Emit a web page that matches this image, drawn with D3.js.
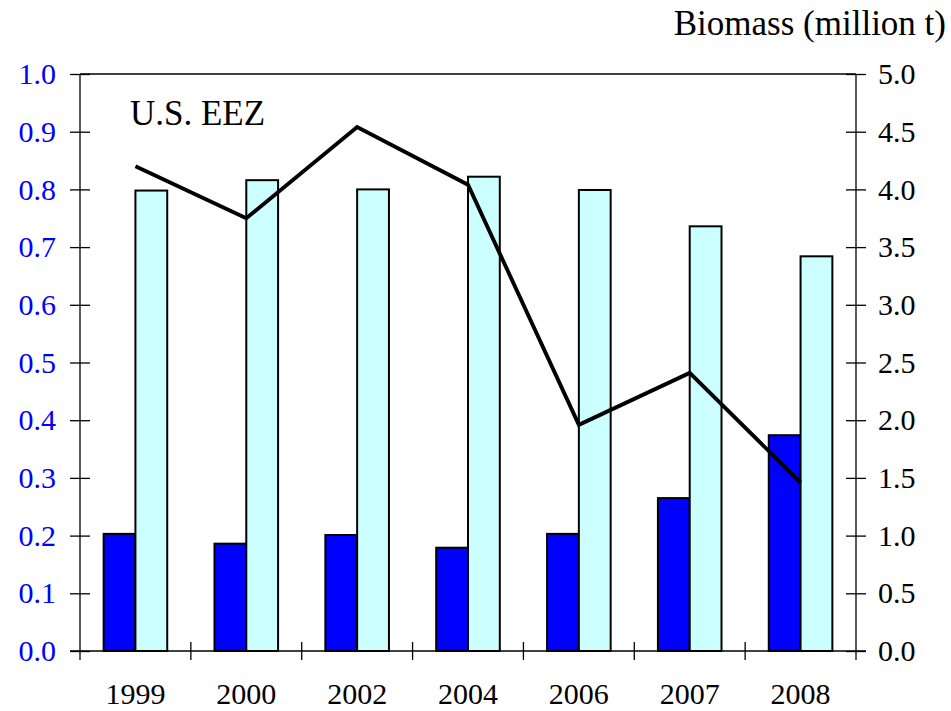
<!DOCTYPE html>
<html>
<head>
<meta charset="utf-8">
<script src="https://cdn.jsdelivr.net/npm/d3@7"></script>
<style>
  body { margin: 0; background: #fff; }
  svg { display: block; }
  svg text { font-family: "Liberation Serif", "Times New Roman", serif !important; }
</style>
</head>
<body>
<svg id="chart" width="951" height="711"></svg>
<script>
const years = ["1999", "2000", "2002", "2004", "2006", "2007", "2008"];
const darkValues = [0.203, 0.186, 0.201, 0.179, 0.203, 0.265, 0.374];   // left axis
const lightValues = [3.99, 4.08, 4.00, 4.11, 3.995, 3.68, 3.42];       // right axis
const lineValues = [4.20, 3.75, 4.54, 4.04, 1.96, 2.41, 1.46];         // right axis
const leftTicks = [0, 0.1, 0.2, 0.3, 0.4, 0.5, 0.6, 0.7, 0.8, 0.9, 1.0];
const rightTicks = [0, 0.5, 1, 1.5, 2, 2.5, 3, 3.5, 4, 4.5, 5];
const rightTitle = "Biomass (million t)";
const panelLabel = "U.S. EEZ";

const L = 80, R = 856, T = 74, B = 651;
const svg = d3.select("#chart");

const x = d3.scaleBand().domain(years).range([L, R]).paddingInner(0).paddingOuter(0);
const yL = d3.scaleLinear().domain([0, 1]).range([B, T]);
const yR = d3.scaleLinear().domain([0, 5]).range([B, T]);
const barW = 31.8;

// top border
svg.append("line").attr("x1", L).attr("x2", R).attr("y1", T).attr("y2", T)
  .attr("stroke", "#000").attr("stroke-width", 1.3);

// bars
const g = svg.append("g");
g.selectAll("rect.dark").data(years).join("rect")
  .attr("class", "dark")
  .attr("x", d => x(d) + x.bandwidth() / 2 - barW)
  .attr("width", barW)
  .attr("y", (d, i) => yL(darkValues[i]))
  .attr("height", (d, i) => B - yL(darkValues[i]))
  .attr("fill", "#0000ff").attr("stroke", "#000").attr("stroke-width", 2);
g.selectAll("rect.light").data(years).join("rect")
  .attr("class", "light")
  .attr("x", d => x(d) + x.bandwidth() / 2)
  .attr("width", barW)
  .attr("y", (d, i) => yR(lightValues[i]))
  .attr("height", (d, i) => B - yR(lightValues[i]))
  .attr("fill", "#ccffff").attr("stroke", "#000").attr("stroke-width", 2);

// line
const line = d3.line()
  .x((d, i) => x(years[i]) + x.bandwidth() / 2)
  .y(d => yR(d));
svg.append("path").datum(lineValues).attr("d", line)
  .attr("fill", "none").attr("stroke", "#000").attr("stroke-width", 3.9)
  .attr("stroke-linejoin", "miter");

// left axis
const axL = d3.axisLeft(yL).tickValues(leftTicks).tickFormat(d3.format(".1f"))
  .tickSizeInner(10).tickSizeOuter(0).tickPadding(14);
const gL = svg.append("g").attr("transform", `translate(${L},0)`).call(axL)
  .attr("font-family", "Liberation Serif");
gL.select(".domain").remove();
gL.selectAll(".tick line").attr("x2", -10).attr("x1", 10).attr("stroke", "#000").attr("stroke-width", 1.3);
gL.selectAll(".tick text").attr("fill", "#0000ff").attr("font-size", 30).attr("x", -24);
svg.append("line").attr("x1", L).attr("x2", L).attr("y1", T).attr("y2", B + 9)
  .attr("stroke", "#000").attr("stroke-width", 1.3);

// right axis
const axR = d3.axisRight(yR).tickValues(rightTicks).tickFormat(d3.format(".1f"))
  .tickSizeInner(10).tickSizeOuter(0).tickPadding(14);
const gR = svg.append("g").attr("transform", `translate(${R},0)`).call(axR)
  .attr("font-family", "Liberation Serif");
gR.select(".domain").remove();
gR.selectAll(".tick line").attr("x1", -10).attr("x2", 10).attr("stroke", "#000").attr("stroke-width", 1.3);
gR.selectAll(".tick text").attr("fill", "#000").attr("font-size", 30).attr("x", 22);
svg.append("line").attr("x1", R).attr("x2", R).attr("y1", T).attr("y2", B + 9)
  .attr("stroke", "#000").attr("stroke-width", 1.3);

// bottom axis
const axB = d3.axisBottom(x).tickSize(0).tickPadding(32);
const gB = svg.append("g").attr("transform", `translate(0,${B})`).call(axB)
  .attr("font-family", "Liberation Serif");
gB.select(".domain").remove();
gB.selectAll(".tick text").attr("font-size", 30).attr("fill", "#000");
svg.append("line").attr("x1", L - 10).attr("x2", R + 10).attr("y1", B).attr("y2", B)
  .attr("stroke", "#000").attr("stroke-width", 1.3);
// category separators
svg.append("g").selectAll("line").data(years.slice(1)).join("line")
  .attr("x1", d => x(d)).attr("x2", d => x(d))
  .attr("y1", B - 9).attr("y2", B + 9)
  .attr("stroke", "#000").attr("stroke-width", 1.3);

// labels
svg.append("text").attr("x", 946).attr("y", 35).attr("text-anchor", "end")
  .attr("font-size", 35).attr("fill", "#000").text(rightTitle);
svg.append("text").attr("x", 130).attr("y", 125)
  .attr("font-size", 35).attr("fill", "#000").text(panelLabel);
</script>
</body>
</html>
